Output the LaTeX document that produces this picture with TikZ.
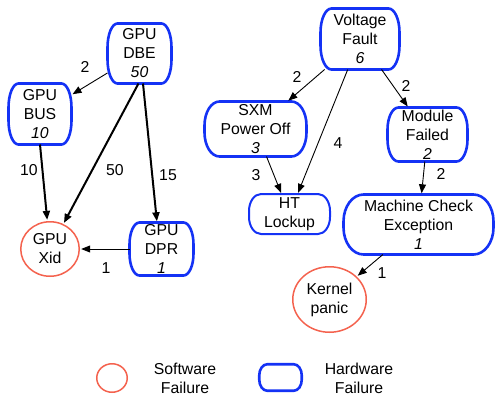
\documentclass[tikz,border=0pt]{standalone}
\usepackage{fontspec}
\setmainfont{Liberation Sans}
\usetikzlibrary{arrows.meta,shapes.geometric}
\definecolor{hwblue}{RGB}{20,50,245}
\definecolor{swred}{RGB}{244,98,78}
\newcommand{\hwshape}[4][]{%
  \draw[hwline,#1] ([xshift=#3]#2.north west) -- ([xshift=-#3]#2.north east)
    arc[start angle=90,end angle=0,x radius=#3,y radius=#4]
    -- ([yshift=#4]#2.south east)
    arc[start angle=0,end angle=-90,x radius=#3,y radius=#4]
    -- ([xshift=#3]#2.south west)
    arc[start angle=270,end angle=180,x radius=#3,y radius=#4]
    -- ([yshift=-#4]#2.north west)
    arc[start angle=180,end angle=90,x radius=#3,y radius=#4]
    -- cycle;}
\begin{document}
\begin{tikzpicture}[x=1pt,y=-1pt,
  every node/.style={font=\fontsize{15.8}{19}\selectfont},
  hw/.style={align=center, inner sep=0pt, outer sep=0pt},
  hwline/.style={draw=hwblue, line width=2.6pt},
  sw/.style={draw=swred, line width=1.5pt, ellipse, align=center, inner sep=0pt},
  thinarrow/.style={line width=0.9pt, shorten >=1.2pt, -{Triangle[length=9pt,width=7pt]}},
  thickarrow/.style={line width=2pt, shorten >=1.2pt, -{Triangle[length=9pt,width=7pt]}},
  lbl/.style={inner sep=0pt}]
\useasboundingbox (0,0) rectangle (497,399);
% nodes
\node[hw, minimum width=64pt, minimum height=60pt] (dbe) at (139.5,53.5) {GPU\\DBE\\\textit{50}};
\node[hw, minimum width=63pt, minimum height=61pt] (bus) at (40,114) {GPU\\BUS\\\textit{10}};
\node[hw, minimum width=64pt, minimum height=53pt] (dpr) at (161.5,249) {GPU\\DPR\\\textit{1}};
\node[sw, minimum width=58.5pt, minimum height=54.5pt] (xid) at (50,249) {GPU\\Xid};
\node[hw, minimum width=79pt, minimum height=61pt] (vf) at (360,39) {Voltage\\Fault\\\textit{6}};
\node[hw, minimum width=102pt, minimum height=55pt] (sxm) at (255.5,129) {SXM\\Power Off\\\textit{3}};
\node[hw, minimum width=80pt, minimum height=54pt] (mf) at (427.5,134.5) {Module\\Failed\\\textit{2}};
\node[hw, minimum width=81pt, minimum height=40pt] (ht) at (289.5,214) {HT\\Lockup};
\node[hw, minimum width=150pt, minimum height=60pt] (mce) at (418.5,224.5) {Machine Check\\Exception\\\textit{1}};
\node[sw, minimum width=73.5pt, minimum height=65.5pt] (kp) at (329.5,299.5) {Kernel\\panic};
% rounded outlines
\hwshape{dbe}{10pt}{24pt}
\hwshape{bus}{10pt}{24pt}
\hwshape{dpr}{10pt}{22pt}
\hwshape{vf}{11pt}{24pt}
\hwshape{sxm}{15pt}{24pt}
\hwshape{mf}{11pt}{22pt}
\hwshape[line width=2pt]{ht}{12pt}{17pt}
\hwshape{mce}{20pt}{27pt}
% edges
\draw[thinarrow] (dbe) -- (bus);
\draw[thickarrow] (bus.south) -- (xid);
\draw[thickarrow] ([xshift=-1pt]dbe.south) -- (xid);
\draw[thickarrow] ([xshift=3.5pt]dbe.south) -- ([xshift=-4.5pt]dpr.north);
\draw[thinarrow] (dpr) -- (xid);
\draw[thinarrow] (vf) -- (sxm);
\draw[thinarrow] (vf) -- (ht);
\draw[thinarrow] (vf) -- (mf);
\draw[thinarrow] (sxm) -- (ht);
\draw[thinarrow] (mf) -- (mce);
\draw[thinarrow] (mce) -- (kp);
% edge labels
\node[lbl] (l1) at (85,67) {2};
\node[lbl] (l2) at (29,170) {10};
\node[lbl] (l3) at (115,170) {50};
\node[lbl] (l4) at (168,175) {15};
\node[lbl] (l5) at (106,268) {1};
\node[lbl] (l6) at (297,77) {2};
\node[lbl] (l7) at (338,143) {4};
\node[lbl] (l8) at (406,86) {2};
\node[lbl] (l9) at (256,175) {3};
\node[lbl] (l10) at (441,174) {2};
\node[lbl] (l11) at (382,273) {1};
% legend
\node[sw, minimum width=30.5pt, minimum height=28.5pt] (legsw) at (112,378) {};
\node[align=center, inner sep=0pt] (legswt) at (185,378) {Software\\Failure};
\node[hw, minimum width=42.5pt, minimum height=26.5pt] (leghw) at (280.5,377.5) {};
\hwshape{leghw}{8pt}{11pt}
\node[align=center, inner sep=0pt] (leghwt) at (359,378) {Hardware\\Failure};
\end{tikzpicture}
\end{document}
